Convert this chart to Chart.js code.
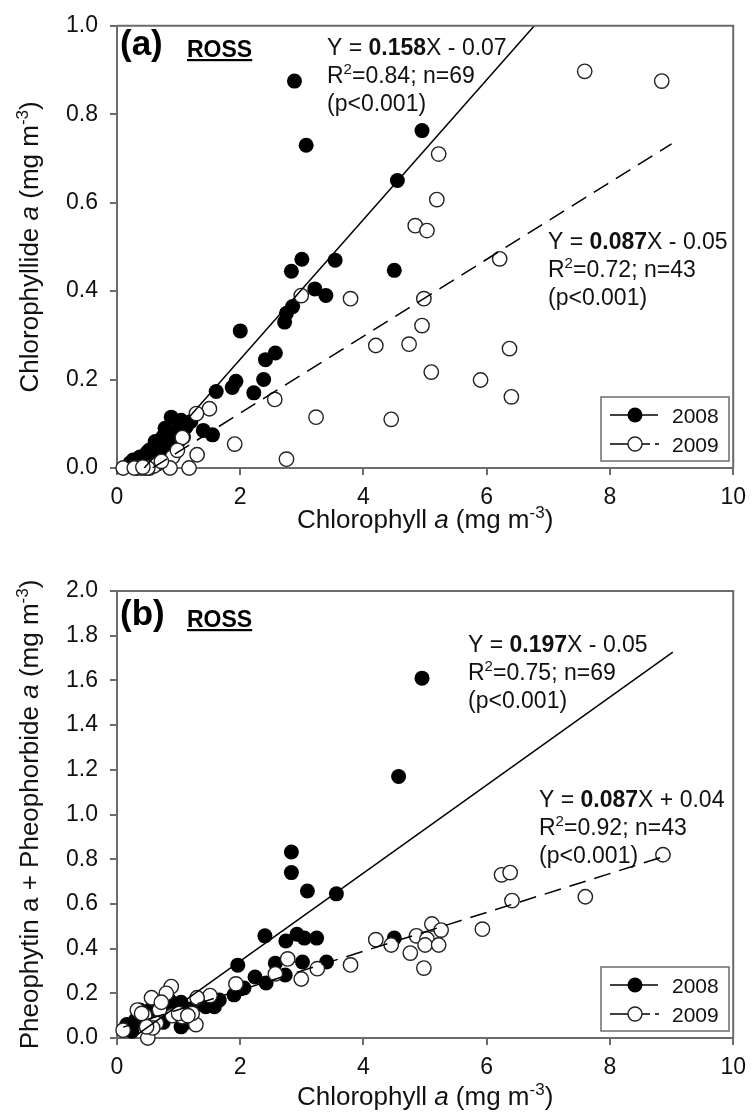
<!DOCTYPE html>
<html>
<head>
<meta charset="utf-8">
<script src="https://cdn.jsdelivr.net/npm/chart.js@4.4.0/dist/chart.umd.min.js"></script>
<style>
  html, body { margin: 0; padding: 0; background: #fff; }
  canvas { display: block; }
</style>
</head>
<body>
<canvas id="chartA" width="755" height="556"></canvas>
<canvas id="chartB" width="755" height="557"></canvas>
<script>
// ---- data ----
const seriesLabels = ["2008", "2009"];
const xTickValues = [0, 2, 4, 6, 8, 10];
const yTickValuesA = [0, 0.2, 0.4, 0.6, 0.8, 1.0];
const yTickValuesB = [0, 0.2, 0.4, 0.6, 0.8, 1.0, 1.2, 1.4, 1.6, 1.8, 2.0];

// (a) chlorophyllide a vs chlorophyll a
const a2008X = [2.88, 3.07, 4.95, 4.55, 4.50, 3.54, 3.00, 2.83, 3.21, 3.39, 2.85, 2.75, 2.72, 2.00, 2.57, 2.41,
  2.38, 1.93, 1.87, 2.22, 1.61, 1.40, 1.55, 0.88, 1.04, 1.12, 0.96, 0.74, 0.80, 0.64, 0.58, 0.48, 0.37, 0.26,
  0.21, 1.00, 0.70, 0.55, 0.45, 0.33, 0.85, 0.92, 1.08, 0.66, 1.20, 0.78, 0.62, 0.52, 0.40, 0.30];
const a2008Y = [0.875, 0.730, 0.763, 0.650, 0.447, 0.470, 0.472, 0.445, 0.405, 0.390, 0.365, 0.350, 0.330, 0.310,
  0.260, 0.245, 0.200, 0.196, 0.182, 0.170, 0.173, 0.085, 0.075, 0.115, 0.108, 0.093, 0.085, 0.070, 0.063, 0.055,
  0.045, 0.034, 0.025, 0.018, 0.011, 0.060, 0.040, 0.020, 0.010, 0.005, 0.050, 0.030, 0.070, 0.030, 0.105, 0.090,
  0.060, 0.040, 0.015, 0.012];
const a2009X = [7.59, 8.84, 5.22, 5.19, 4.84, 5.03, 6.21, 4.98, 4.95, 4.74, 4.20, 6.37, 5.10, 5.90, 6.40, 4.45,
  2.99, 3.79, 2.56, 3.23, 1.91, 2.75, 1.50, 1.29, 1.06, 1.30, 0.90, 1.17, 0.86, 0.53, 0.46, 0.40, 0.33, 0.10,
  0.66, 0.98, 0.28, 0.60, 0.50, 0.72, 0.42];
const a2009Y = [0.897, 0.875, 0.710, 0.607, 0.548, 0.537, 0.473, 0.383, 0.322, 0.280, 0.277, 0.270, 0.217, 0.199,
  0.161, 0.110, 0.390, 0.383, 0.155, 0.115, 0.054, 0.020, 0.134, 0.123, 0.069, 0.030, 0.025, 0.000, 0.000, 0.000,
  0.000, 0.000, 0.000, 0.000, 0.010, 0.040, 0.000, 0.005, 0.000, 0.015, 0.002];

// (b) pheophytin a + pheophorbide a vs chlorophyll a
const b2008X = [4.95, 4.57, 2.83, 2.83, 3.09, 3.56, 2.40, 2.74, 2.92, 3.04, 3.24, 3.01, 3.40, 1.96, 2.57, 2.24,
  2.42, 2.73, 1.90, 2.06, 1.58, 1.66, 1.44, 1.04, 1.04, 0.80, 0.16, 0.24, 0.37, 4.50, 0.70, 0.90, 1.20, 0.60,
  0.75, 0.30, 0.45, 1.30, 1.00, 0.85, 1.12, 0.55, 2.00, 1.50, 0.65, 0.95];
const b2008Y = [1.610, 1.170, 0.832, 0.740, 0.658, 0.645, 0.457, 0.434, 0.464, 0.447, 0.447, 0.340, 0.340, 0.326,
  0.335, 0.273, 0.246, 0.282, 0.193, 0.224, 0.140, 0.170, 0.140, 0.160, 0.050, 0.160, 0.060, 0.030, 0.125, 0.447,
  0.140, 0.120, 0.130, 0.100, 0.070, 0.080, 0.060, 0.150, 0.100, 0.170, 0.070, 0.130, 0.220, 0.155, 0.150, 0.140];
const b2009X = [8.86, 6.24, 6.38, 6.41, 7.60, 5.93, 5.11, 5.26, 4.86, 4.45, 4.20, 5.03, 5.00, 5.22, 4.76, 4.98,
  3.79, 3.25, 2.99, 2.77, 2.57, 1.93, 1.51, 1.30, 1.28, 0.88, 0.56, 0.33, 0.45, 0.69, 0.90, 1.06, 1.22, 0.64,
  0.50, 0.10, 0.58, 0.48, 0.80, 1.00, 0.72, 1.15, 0.40];
const b2009Y = [0.820, 0.730, 0.740, 0.615, 0.632, 0.487, 0.510, 0.483, 0.457, 0.416, 0.440, 0.443, 0.416, 0.416,
  0.380, 0.313, 0.327, 0.310, 0.264, 0.354, 0.287, 0.242, 0.190, 0.180, 0.060, 0.230, 0.180, 0.125, 0.100, 0.125,
  0.100, 0.095, 0.110, 0.066, 0.000, 0.035, 0.045, 0.050, 0.200, 0.110, 0.160, 0.100, 0.110];

// regressions (slope, intercept) and the x span each line covers
const fitSlopesA = [0.158, 0.087];
const fitInterceptsA = [-0.07, -0.05];
const fitSpansA = [[0.44, 9.0], [0.58, 9.0]];
const fitSlopesB = [0.197, 0.087];
const fitInterceptsB = [-0.05, 0.04];
const fitSpansB = [[0.30, 9.02], [0.10, 8.9]];

// ---- drawing helpers ----
const FONT = "'Liberation Sans', Arial, Helvetica, sans-serif";
const AXIS_COLOR = "#6b6b6b";
const TEXT_COLOR = "#111";

function toPoints(xs, ys) {
  return xs.map((x, i) => ({ x: x, y: ys[i] }));
}

function fitPoints(m, b, span) {
  return span.map((x) => ({ x: x, y: m * x + b }));
}

function fontFor(style, size) {
  return (style.includes("i") ? "italic " : "") + (style.includes("b") ? "bold " : "") + size + "px " + FONT;
}

// parts: [[text, style]] ; style letters: b bold, i italic, s superscript
function drawRich(ctx, x, y, parts, size, align) {
  let total = 0;
  const items = parts.map(([t, st = ""]) => {
    const sz = st.includes("s") ? Math.round(size * 0.66) : size;
    ctx.font = fontFor(st, sz);
    const w = ctx.measureText(t).width;
    total += w;
    return { t, st, sz, w };
  });
  let cx = align === "center" ? x - total / 2 : x;
  ctx.textAlign = "left";
  ctx.textBaseline = "alphabetic";
  items.forEach((it) => {
    ctx.font = fontFor(it.st, it.sz);
    ctx.fillText(it.t, cx, it.st.includes("s") ? y - size * 0.4 : y);
    cx += it.w;
  });
  return total;
}

function drawOpenCircle(ctx, x, y) {
  ctx.beginPath();
  ctx.arc(x, y, 7, 0, Math.PI * 2);
  ctx.fillStyle = "#fff";
  ctx.fill();
  ctx.lineWidth = 1.4;
  ctx.strokeStyle = "#222";
  ctx.stroke();
}

function drawFilledCircle(ctx, x, y) {
  ctx.beginPath();
  ctx.arc(x, y, 7.5, 0, Math.PI * 2);
  ctx.fillStyle = "#000";
  ctx.fill();
}

function segment(ctx, x0, x1, y) {
  ctx.beginPath();
  ctx.moveTo(x0, y);
  ctx.lineTo(x1, y);
  ctx.stroke();
}

function drawLegend(ctx, box, rowYs) {
  ctx.save();
  ctx.strokeStyle = AXIS_COLOR;
  ctx.lineWidth = 1.5;
  ctx.strokeRect(box.x, box.y, box.w, box.h);
  ctx.strokeStyle = "#000";
  ctx.lineWidth = 1.5;
  // 2008 solid
  segment(ctx, box.x + 9, box.x + 57, rowYs[0]);
  drawFilledCircle(ctx, box.x + 34, rowYs[0]);
  // 2009 dashed: long dash, marker, two short dashes
  ctx.strokeStyle = "#000";
  ctx.lineWidth = 1.5;
  segment(ctx, box.x + 9, box.x + 30, rowYs[1]);
  drawOpenCircle(ctx, box.x + 34, rowYs[1]);
  ctx.strokeStyle = "#000";
  ctx.lineWidth = 1.5;
  segment(ctx, box.x + 41, box.x + 49, rowYs[1]);
  segment(ctx, box.x + 54, box.x + 58, rowYs[1]);
  ctx.fillStyle = TEXT_COLOR;
  drawRich(ctx, box.x + 71, rowYs[0] + 7.5, [[seriesLabels[0]]], 21, "left");
  drawRich(ctx, box.x + 71, rowYs[1] + 7.5, [[seriesLabels[1]]], 21, "left");
  ctx.restore();
}

function drawEquation(ctx, x, y, slope, sign, icpt, r2, n) {
  ctx.fillStyle = TEXT_COLOR;
  drawRich(ctx, x, y, [["Y = "], [slope, "b"], ["X " + sign + " " + icpt]], 23, "left");
  drawRich(ctx, x, y + 28, [["R"], ["2", "s"], ["=" + r2 + "; n=" + n]], 23, "left");
  drawRich(ctx, x, y + 56, [["(p<0.001)"]], 23, "left");
}

function panelLabel(ctx, y, letter) {
  ctx.fillStyle = "#000";
  drawRich(ctx, 120, y, [["(" + letter + ")", "b"]], 35, "left");
  const w = drawRich(ctx, 187, y + 2, [["ROSS", "b"]], 23, "left");
  ctx.fillRect(187, y + 4, w, 2.2);
}

// ---- chart factory ----
function makePanel(canvasId, opts) {
  const datasets = [
    {
      label: seriesLabels[0],
      data: toPoints(opts.x2008, opts.y2008),
      pointRadius: 7.5,
      pointBackgroundColor: "#000",
      pointBorderColor: "#000",
      pointBorderWidth: 0,
      showLine: false,
      clip: false,
      order: 2,
    },
    {
      label: seriesLabels[1],
      data: toPoints(opts.x2009, opts.y2009),
      pointRadius: 7.2,
      pointBackgroundColor: "#fff",
      pointBorderColor: "#222",
      pointBorderWidth: 1.4,
      showLine: false,
      clip: false,
      order: 1,
    },
    {
      label: "fit 2008",
      data: fitPoints(opts.slopes[0], opts.intercepts[0], opts.spans[0]),
      showLine: true,
      borderColor: "#000",
      borderWidth: 1.5,
      pointRadius: 0,
      order: 0,
    },
    {
      label: "fit 2009",
      data: fitPoints(opts.slopes[1], opts.intercepts[1], opts.spans[1]),
      showLine: true,
      borderColor: "#000",
      borderWidth: 1.5,
      borderDash: [17, 9],
      pointRadius: 0,
      order: 0,
    },
  ];

  const decor = {
    id: "decor_" + canvasId,
    afterDraw(chart) {
      const ctx = chart.ctx;
      const area = chart.chartArea;
      ctx.save();
      // top and right frame
      ctx.strokeStyle = AXIS_COLOR;
      ctx.lineWidth = 2;
      ctx.beginPath();
      ctx.moveTo(area.left, area.top);
      ctx.lineTo(area.right, area.top);
      ctx.lineTo(area.right, area.bottom);
      ctx.stroke();

      panelLabel(ctx, opts.labelY, opts.letter);
      opts.equations.forEach((e) => drawEquation(ctx, e.x, e.y, e.slope, e.sign, e.icpt, e.r2, e.n));
      drawLegend(ctx, opts.legendBox, opts.legendRows);

      // x title
      ctx.fillStyle = TEXT_COLOR;
      drawRich(ctx, (area.left + area.right) / 2, opts.xTitleY,
        [["Chlorophyll "], ["a", "i"], [" (mg m"], ["-3", "s"], [")"]], 26, "center");
      // y title
      ctx.save();
      ctx.translate(38, (area.top + area.bottom) / 2);
      ctx.rotate(-Math.PI / 2);
      drawRich(ctx, 0, 0, opts.yTitle, 26, "center");
      ctx.restore();
      ctx.restore();
    },
  };

  return new Chart(document.getElementById(canvasId), {
    type: "scatter",
    data: { datasets },
    options: {
      responsive: false,
      devicePixelRatio: 1,
      animation: false,
      events: [],
      layout: { padding: { top: opts.padTop, right: 16, left: 0, bottom: 0 } },
      plugins: { legend: { display: false }, tooltip: { enabled: false } },
      scales: {
        x: {
          type: "linear",
          min: 0,
          max: 10,
          afterBuildTicks: (s) => { s.ticks = xTickValues.map((v) => ({ value: v })); },
          afterFit: (s) => { s.height = opts.xAxisHeight; },
          ticks: {
            font: { family: FONT, size: 23 },
            color: TEXT_COLOR,
            padding: 9,
            maxRotation: 0,
          },
          grid: { drawOnChartArea: false, tickLength: 7, color: AXIS_COLOR, lineWidth: 2 },
          border: { color: AXIS_COLOR, width: 2 },
        },
        y: {
          type: "linear",
          min: 0,
          max: opts.yMax,
          afterBuildTicks: (s) => { s.ticks = opts.yTicks.map((v) => ({ value: v })); },
          afterFit: (s) => { s.width = 117; },
          ticks: {
            font: { family: FONT, size: 23 },
            color: TEXT_COLOR,
            padding: 12,
            callback: (v) => Number(v).toFixed(1),
          },
          grid: { drawOnChartArea: false, tickLength: 7, color: AXIS_COLOR, lineWidth: 2 },
          border: { color: AXIS_COLOR, width: 2 },
        },
      },
    },
    plugins: [decor],
  });
}

makePanel("chartA", {
  x2008: a2008X, y2008: a2008Y, x2009: a2009X, y2009: a2009Y,
  slopes: fitSlopesA, intercepts: fitInterceptsA, spans: fitSpansA,
  yMax: 1.0, yTicks: yTickValuesA,
  padTop: 21, xAxisHeight: 88,
  letter: "a", labelY: 55,
  equations: [
    { x: 327, y: 55, slope: "0.158", sign: "-", icpt: "0.07", r2: "0.84", n: 69 },
    { x: 548, y: 249, slope: "0.087", sign: "-", icpt: "0.05", r2: "0.72", n: 43 },
  ],
  legendBox: { x: 601, y: 397, w: 128, h: 64 },
  legendRows: [415, 444],
  xTitleY: 528,
  yTitle: [["Chlorophyllide "], ["a", "i"], [" (mg m"], ["-3", "s"], [")"]],
});

makePanel("chartB", {
  x2008: b2008X, y2008: b2008Y, x2009: b2009X, y2009: b2009Y,
  slopes: fitSlopesB, intercepts: fitInterceptsB, spans: fitSpansB,
  yMax: 2.0, yTicks: yTickValuesB,
  padTop: 35, xAxisHeight: 75,
  letter: "b", labelY: 69,
  equations: [
    { x: 468, y: 96, slope: "0.197", sign: "-", icpt: "0.05", r2: "0.75", n: 69 },
    { x: 539, y: 251, slope: "0.087", sign: "+", icpt: "0.04", r2: "0.92", n: 43 },
  ],
  legendBox: { x: 601, y: 411, w: 128, h: 64 },
  legendRows: [429, 458],
  xTitleY: 549,
  yTitle: [["Pheophytin a + Pheophorbide "], ["a", "i"], [" (mg m"], ["-3", "s"], [")"]],
});
</script>
</body>
</html>
